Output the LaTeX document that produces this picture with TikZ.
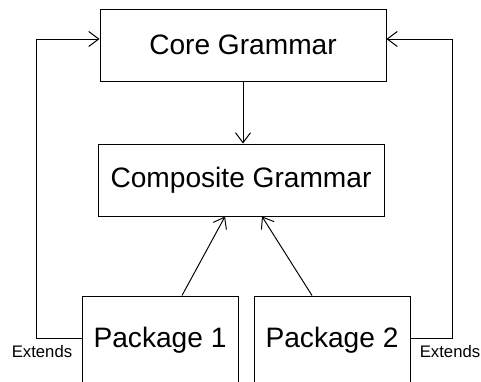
\documentclass[tikz,border=0pt]{standalone}
\usepackage{fontspec}
\setmainfont{Liberation Sans}
\usetikzlibrary{arrows.meta}

\begin{document}
\begin{tikzpicture}[
  box/.style={draw, line width=0.55pt, minimum width=5.72cm, minimum height=1.44cm, font=\fontsize{16}{18}\selectfont},
  pkg/.style={draw, line width=0.55pt, minimum width=3.12cm, inner ysep=0pt, text height=1.02cm, text depth=1.1cm, anchor=base, font=\fontsize{16}{18}\selectfont},
  lbl/.style={font=\fontsize{9.5}{11}\selectfont, inner sep=0pt},
  arr/.style={-{Straight Barb[length=2mm, width=3mm]}, line width=0.55pt}]

\useasboundingbox (0,0) rectangle (9.62,7.62);

\node[box] (core) at (4.86,6.72) {Core Grammar};
\node[box] (comp) at (4.82,4.02) {Composite Grammar};
\node[pkg] (pkg1) at (3.2,0.68) {Package 1};
\node[pkg] (pkg2) at (6.64,0.68) {Package 2};

\coordinate (lc) at (0.72,0.86);
\coordinate (rc) at (9.04,0.86);

\node[lbl] (ext1) at (0.84,0.58) {Extends};
\node[lbl] (ext2) at (9.0,0.58) {Extends};

\draw[arr] (core.south) to (core.south |- comp.north);
\draw[arr] ([xshift=0.44cm]pkg1.north) to ([xshift=-0.32cm]comp.south);
\draw[arr] ([xshift=-0.4cm]pkg2.north) to ([xshift=0.42cm]comp.south);
\draw[arr] (pkg1.west |- lc) -- (lc) |- ([yshift=0.12cm]core.west);
\draw[arr] (pkg2.east |- rc) -- (rc) |- ([yshift=0.12cm]core.east);
\end{tikzpicture}
\end{document}
